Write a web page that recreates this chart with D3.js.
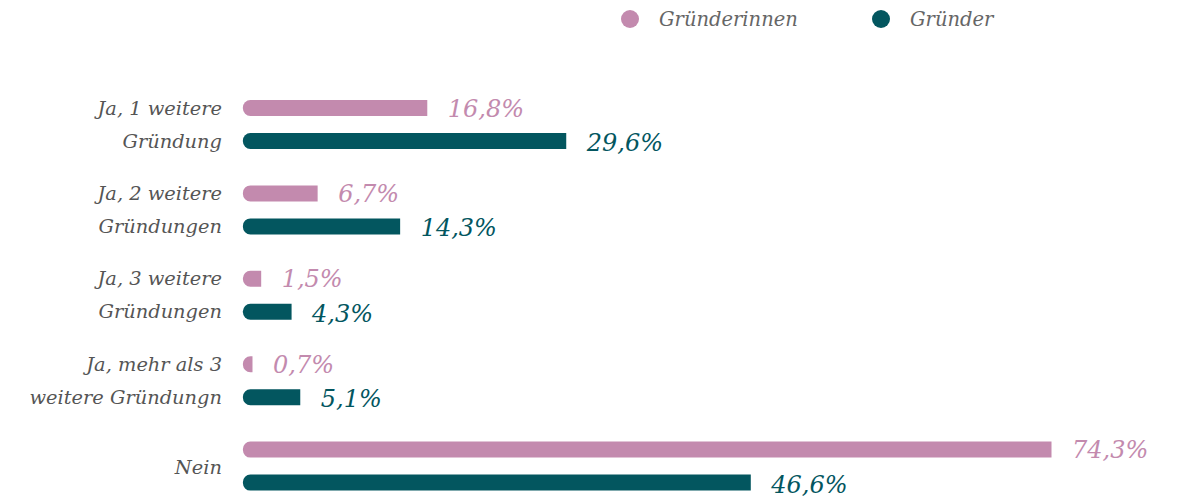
<!DOCTYPE html>
<html><head><meta charset="utf-8">
<script src="https://cdn.jsdelivr.net/npm/d3@7"></script>
<style>
html,body{margin:0;padding:0;background:#fff;}
svg{display:block;}
text{font-family:"DejaVu Serif",serif;font-style:italic;}
</style></head>
<body><svg id="chart" width="1183" height="503"></svg>
<script>
const categories = ["Ja, 1 weitere Gründung","Ja, 2 weitere Gründungen","Ja, 3 weitere Gründungen","Ja, mehr als 3 weitere Gründungn","Nein"];
const categoryLines = [["Ja, 1 weitere","Gründung"],["Ja, 2 weitere","Gründungen"],["Ja, 3 weitere","Gründungen"],["Ja, mehr als 3","weitere Gründungn"],["Nein"]];
const seriesNames = ["Gründerinnen","Gründer"];
const womenValues = [16.8, 6.7, 1.5, 0.7, 74.3];
const menValues = [29.6, 14.3, 4.3, 5.1, 46.6];
const colors = ["#c38aae","#03565f"];

const svg = d3.select("#chart");
const x = d3.scaleLinear().domain([0, 100]).range([246.4, 246.4 + 1085.6]);
const y0 = d3.scaleBand().domain(categories).range([81.8, 508.8]);
const y1 = d3.scaleBand().domain(seriesNames).range([y0.bandwidth()/2 - 33, y0.bandwidth()/2 + 33]);
const barH = 16;
const fmt = v => d3.format(".1f")(v).replace(".", ",") + "%";

function barPath(x0, x1, yc, h) {
  const w = x1 - x0;
  const r = Math.min(7.5, w, h/2);
  const t = yc - h/2, b = yc + h/2;
  return `M${x0 + r},${t} H${x1} V${b} H${x0 + r} A${r},${r} 0 0 1 ${x0},${b - r} V${t + r} A${r},${r} 0 0 1 ${x0 + r},${t} Z`;
}

const data = [];
categories.forEach((c, i) => {
  data.push({cat: c, s: 0, v: womenValues[i]});
  data.push({cat: c, s: 1, v: menValues[i]});
});

const g = svg.append("g");
g.selectAll("path.bar").data(data).enter().append("path")
  .attr("class", "bar")
  .attr("fill", d => colors[d.s])
  .attr("d", d => {
    const yc = y0(d.cat) + y1(seriesNames[d.s]) + y1.bandwidth()/2;
    return barPath(x(0) - 3.5, Math.max(x(d.v) - 1.5, x(0)), yc, barH);
  });

g.selectAll("text.val").data(data).enter().append("text")
  .attr("class", "val")
  .attr("x", d => x(d.v) + 19)
  .attr("y", d => y0(d.cat) + y1(seriesNames[d.s]) + y1.bandwidth()/2 + 8.5 + (d.s === 1 ? 1.5 : 0))
  .attr("fill", d => colors[d.s])
  .attr("font-size", 24)
  .text(d => fmt(d.v));

// category labels
categories.forEach((c, i) => {
  const lines = categoryLines[i];
  const t = g.append("text")
    .attr("x", 222)
    .attr("text-anchor", "end")
    .attr("fill", "#555555")
    .attr("font-size", 19.4);
  if (lines.length === 2) {
    lines.forEach((ln, j) => {
      const yc = y0(c) + y1(seriesNames[j]) + y1.bandwidth()/2;
      t.append("tspan").attr("x", 222).attr("y", yc + 6.5).text(ln);
    });
  } else {
    t.attr("y", y0(c) + y0.bandwidth()/2 + 8).text(lines[0]);
  }
});

// legend
const legendX = [630, 881];
seriesNames.forEach((s, i) => {
  svg.append("circle").attr("cx", legendX[i]).attr("cy", 19).attr("r", 9).attr("fill", colors[i]);
  svg.append("text").attr("x", legendX[i] + 29).attr("y", 26)
    .attr("fill", "#666666").attr("font-size", 19.5).text(s);
});
</script>
</body></html>
